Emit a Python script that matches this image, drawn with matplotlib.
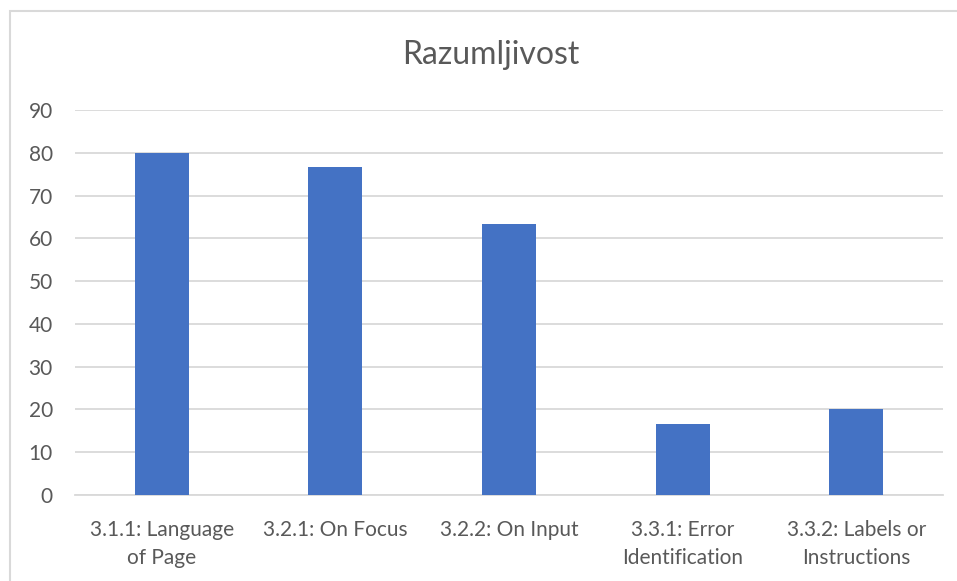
import numpy as np
import matplotlib.pyplot as plt

# data
categories = ["3.1.1: Language\nof Page", "3.2.1: On Focus", "3.2.2: On Input",
              "3.3.1: Error\nIdentification", "3.3.2: Labels or\nInstructions"]
values = [80, 76.67, 63.33, 16.67, 20]
yticks = [0, 10, 20, 30, 40, 50, 60, 70, 80, 90]

plt.rcParams['font.family'] = ['Lato', 'DejaVu Sans']

W, H = 957, 581
fig = plt.figure(figsize=(W / 100, H / 100), dpi=100)
ax = fig.add_axes([75 / W, 1 - 495 / H, (943 - 75) / W, (495 - 110) / H])

# light grey chart border (right and bottom edges run off the image)
fig.patches.append(plt.Rectangle((10 / W, -0.05), 1.0, 1 - 11 / H + 0.05,
                                 transform=fig.transFigure, fill=False,
                                 edgecolor='#D9D9D9', linewidth=1.5))

x = np.arange(len(categories))
ax.bar(x, values, width=0.31, color='#4472C4', zorder=3)

ax.set_xlim(-0.5, len(categories) - 0.5)
ax.set_ylim(0, 90)
ax.set_yticks(yticks)
ax.set_xticks(x)
ax.set_xticklabels(categories, fontsize=15, color='#595959', linespacing=1.5)
ax.tick_params(axis='y', labelsize=15, labelcolor='#595959', length=0, pad=16)
ax.tick_params(axis='x', length=0, pad=18)

ax.grid(axis='y', color='#D9D9D9', linewidth=1.3, zorder=0)
for s in ['top', 'right', 'left']:
    ax.spines[s].set_visible(False)
ax.spines['bottom'].set_color('#D9D9D9')
ax.spines['bottom'].set_linewidth(1.3)

fig.text(491 / W, 1 - 55 / H, "Razumljivost", ha='center', va='center',
         fontsize=23, color='#595959')

fig.savefig("out.png", dpi=100)
